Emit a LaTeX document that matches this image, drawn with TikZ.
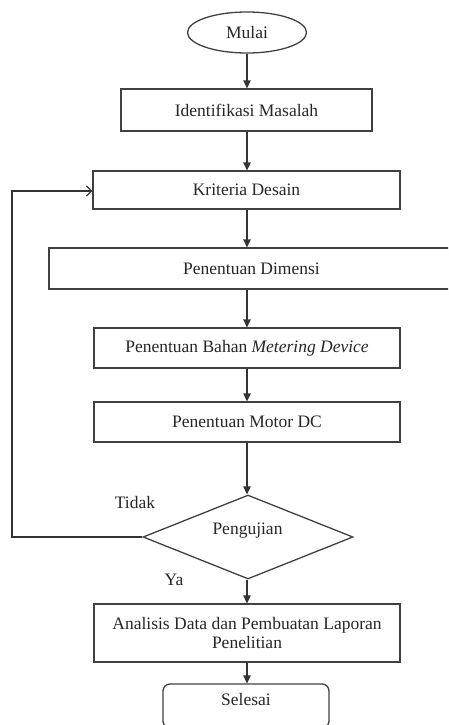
\documentclass[tikz,border=0pt]{standalone}
\usepackage{fontspec}
\setmainfont{Liberation Serif}
\usetikzlibrary{shapes.geometric,arrows.meta}
\begin{document}
\begin{tikzpicture}[x=1pt,y=-1pt,
  every node/.style={font=\fontsize{17.5}{20}\selectfont, text=black!85},
  procbox/.style={draw=black!75, line width=1.3pt, rectangle, inner sep=0pt, align=center},
  flow/.style={draw=black!80, line width=1.3pt, -{Triangle[length=8pt,width=7.5pt]}},
  back/.style={draw=black!80, line width=1.3pt, -{Straight Barb[length=5pt,width=10pt,line width=1.3pt]}}]
\useasboundingbox (0,0) rectangle (448,725);
\clip (0,0) rectangle (448,725);
\node[procbox, ellipse, minimum width=119pt, minimum height=41pt] (mulai) at (247,32.5) {Mulai};
\node[procbox, minimum width=251pt, minimum height=42pt] (ident) at (246.5,110) {Identifikasi Masalah};
\node[procbox, minimum width=307pt, minimum height=38pt] (krit) at (246.5,190) {Kriteria Desain};
\node[procbox, minimum width=405pt, minimum height=41pt] (dim) at (251.5,268.5) {Penentuan Dimensi};
\node[procbox, minimum width=306pt, minimum height=40pt] (bahan) at (247,348) {Penentuan Bahan \textit{Metering Device}};
\node[procbox, minimum width=306pt, minimum height=40pt] (motor) at (247,422) {Penentuan Motor DC};
\node[procbox, diamond, minimum width=210pt, minimum height=84pt] (uji) at (248,537) {};
\node (ujit) at (247.5,531) {Pengujian};
\node[procbox, minimum width=306pt, minimum height=58pt] (anal) at (247,633) {Analisis Data dan Pembuatan Laporan\\[-1pt]Penelitian};
\node[procbox, rounded corners=7pt, minimum width=166pt, minimum height=44pt] (selesai) at (246,706) {};
\node (selt) at (246,700) {Selesai};
\node (tidak) at (135,503) {Tidak};
\node (ya) at (174,580) {Ya};
\coordinate (c1) at (12,537);
\coordinate (c2) at (12,191);
\draw[flow] (mulai.south -| 247,0) -- (ident.north -| 247,0);
\draw[flow] (ident.south -| 247,0) -- (krit.north -| 247,0);
\draw[flow] (krit.south -| 247,0) -- (dim.north -| 247,0);
\draw[flow] (dim.south -| 247,0) -- (bahan.north -| 247,0);
\draw[flow] (bahan.south -| 247,0) -- (motor.north -| 247,0);
\draw[flow] (motor.south -| 247,0) -- (uji.north -| 247,0);
\draw[flow] (uji.south -| 247,0) -- (anal.north -| 247,0);
\draw[flow] (anal.south -| 247,0) -- (selesai.north -| 247,0);
\draw[back] (uji.west) -- (c1) -- (c2) -- (c2 -| krit.west);
\end{tikzpicture}
\end{document}
